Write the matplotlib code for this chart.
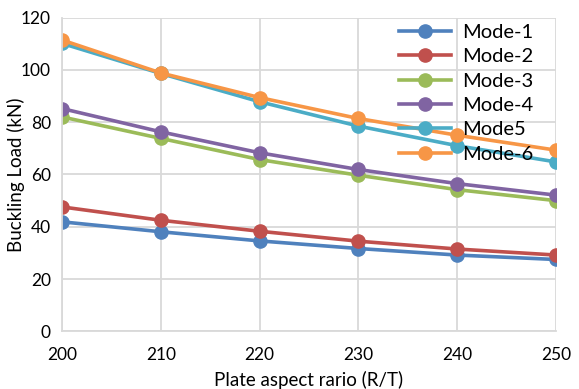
import matplotlib.pyplot as plt

# Data
ratio = [200, 210, 220, 230, 240, 250]
mode1 = [41.9, 38.1, 34.6, 31.7, 29.2, 27.5]
mode2 = [47.6, 42.5, 38.3, 34.5, 31.5, 29.2]
mode3 = [82.0, 73.8, 65.7, 59.7, 54.2, 50.0]
mode4 = [85.2, 76.3, 68.3, 61.9, 56.5, 52.1]
mode5 = [110.1, 98.6, 87.8, 78.5, 71.0, 64.8]
mode6 = [111.4, 98.8, 89.4, 81.4, 75.0, 69.3]

labels = ['Mode-1', 'Mode-2', 'Mode-3', 'Mode-4', 'Mode5', 'Mode-6']
colors = ['#4F81BD', '#C0504D', '#9BBB59', '#8064A2', '#4BACC6', '#F79646']

plt.rcParams['font.family'] = ['Lato', 'DejaVu Sans']

fig = plt.figure(figsize=(5.79, 3.89), dpi=100)
ax = fig.add_axes([0.107, 0.148, 0.853, 0.807])

for y, lab, c in zip([mode1, mode2, mode3, mode4, mode5, mode6], labels, colors):
    ax.plot(ratio, y, color=c, linewidth=2.6, marker='o', markersize=9.5, label=lab)

ax.set_xlim(200, 250)
ax.set_ylim(0, 120)
ax.set_xticks(ratio)
ax.set_yticks(range(0, 121, 20))
ax.grid(True, color='#D9D9D9', linewidth=1.3)
ax.set_axisbelow(True)
for s in ['top', 'right']:
    ax.spines[s].set_visible(False)
for s in ['left', 'bottom']:
    ax.spines[s].set_color('#D9D9D9')
    ax.spines[s].set_linewidth(1.3)
ax.tick_params(axis='x', length=0, labelsize=12.5, pad=11)
ax.tick_params(axis='y', length=0, labelsize=12.5, pad=8)

ax.set_xlabel('Plate aspect rario (R/T)', fontsize=13.5, labelpad=6)
ax.set_ylabel('Buckling Load (kN)', fontsize=13.5)
ax.yaxis.set_label_coords(-0.074, 0.5)

ax.legend(loc='upper left', bbox_to_anchor=(399 / 579, 1 - 24 / 389),
          bbox_transform=fig.transFigure, frameon=False, fontsize=14.5,
          handlelength=2.6, handletextpad=0.55, labelspacing=0.36,
          borderaxespad=0, borderpad=0)

fig.savefig('out.png', dpi=100)
